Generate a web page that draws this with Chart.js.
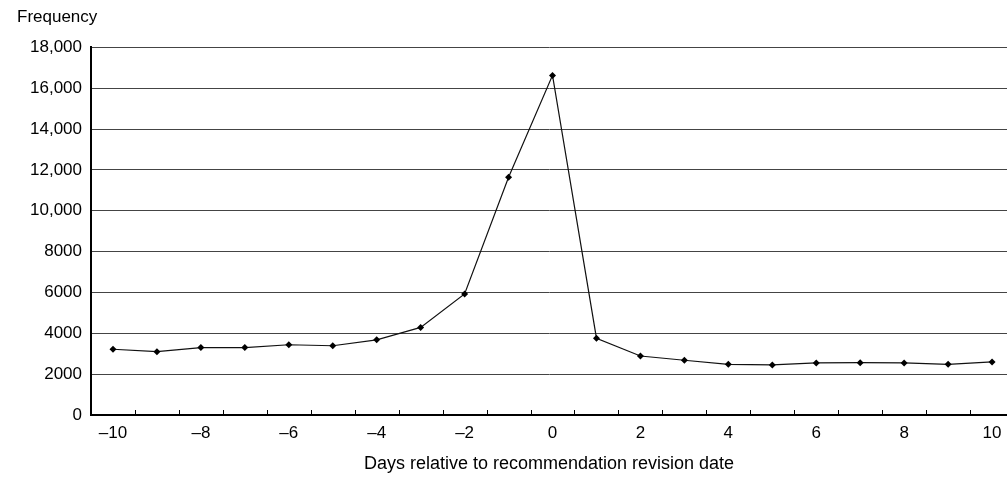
<!DOCTYPE html>
<html>
<head>
<meta charset="utf-8">
<script src="https://cdn.jsdelivr.net/npm/chart.js@4/dist/chart.umd.min.js"></script>
<style>
  html, body { margin: 0; padding: 0; background: #fff; }
  #wrap { width: 1007px; height: 480px; }
</style>
</head>
<body>
<div id="wrap"><canvas id="chart" width="1007" height="480"></canvas></div>
<script>
// ── Data ─────────────────────────────────────────────
const days = [-10, -9, -8, -7, -6, -5, -4, -3, -2, -1, 0, 1, 2, 3, 4, 5, 6, 7, 8, 9, 10];
const frequency = [3220, 3100, 3300, 3300, 3440, 3390, 3680, 4290, 5930, 11640, 16630,
                   3760, 2890, 2680, 2480, 2450, 2550, 2560, 2550, 2480, 2600];
const xTickLabels = [-10, -8, -6, -4, -2, 0, 2, 4, 6, 8, 10];
const yTickValues = [0, 2000, 4000, 6000, 8000, 10000, 12000, 14000, 16000, 18000];
const minorTicks = [-9.5, -8.5, -7.5, -6.5, -5.5, -4.5, -3.5, -2.5, -1.5, -0.5,
                    0.5, 1.5, 2.5, 3.5, 4.5, 5.5, 6.5, 7.5, 8.5, 9.5];

const FONT = 'Liberation Sans, Arial, sans-serif';

// small upward tick marks on the x axis, between the day positions
const minorTickPlugin = {
  id: 'minorTicks',
  afterDraw(chart) {
    const { ctx, scales: { x }, chartArea } = chart;
    ctx.save();
    ctx.strokeStyle = '#000';
    ctx.lineWidth = 1;
    minorTicks.forEach(v => {
      const px = Math.round(x.getPixelForValue(v)) + 0.5;
      ctx.beginPath();
      ctx.moveTo(px, chartArea.bottom);
      ctx.lineTo(px, chartArea.bottom - 5);
      ctx.stroke();
    });
    ctx.restore();
  }
};

new Chart(document.getElementById('chart').getContext('2d'), {
  type: 'line',
  data: {
    datasets: [{
      data: days.map((d, i) => ({ x: d, y: frequency[i] })),
      borderColor: '#111',
      borderWidth: 1.2,
      backgroundColor: '#000',
      pointStyle: 'rectRot',
      pointRadius: 3.5,
      pointBorderWidth: 0,
      tension: 0
    }]
  },
  options: {
    responsive: false,
    animation: false,
    layout: { autoPadding: false, padding: { left: 17, right: 0, top: 4, bottom: 5 } },
    plugins: {
      legend: { display: false },
      tooltip: { enabled: false },
      title: {
        display: true,
        text: 'Frequency',
        align: 'start',
        color: '#000',
        font: { family: FONT, size: 17, weight: 'normal' },
        padding: { top: 3, bottom: 20 }
      }
    },
    scales: {
      x: {
        type: 'linear',
        min: -10.5,
        max: 10.34,
        afterBuildTicks: s => { s.ticks = xTickLabels.map(v => ({ value: v })); },
        afterFit: s => { s.paddingRight = 0; },
        ticks: {
          color: '#000',
          font: { family: FONT, size: 17 },
          padding: 8,
          maxRotation: 0,
          callback: v => (v < 0 ? '\u2013' + Math.abs(v) : String(v))
        },
        grid: { display: false, drawTicks: false },
        border: { display: true, color: '#000', width: 2 },
        title: {
          display: true,
          text: 'Days relative to recommendation revision date',
          color: '#000',
          font: { family: FONT, size: 18 },
          padding: { top: 2, bottom: 0 }
        }
      },
      y: {
        min: 0,
        max: 18000,
        afterBuildTicks: s => { s.ticks = yTickValues.map(v => ({ value: v })); },
        afterFit: s => { s.width = 74; },
        ticks: {
          color: '#000',
          font: { family: FONT, size: 17 },
          padding: 9,
          callback: v => (v >= 10000 ? v.toLocaleString('en-US') : String(v))
        },
        grid: { color: '#444', lineWidth: 1, drawTicks: false },
        border: { display: true, color: '#000', width: 2 }
      }
    }
  },
  plugins: [minorTickPlugin]
});
</script>
</body>
</html>
